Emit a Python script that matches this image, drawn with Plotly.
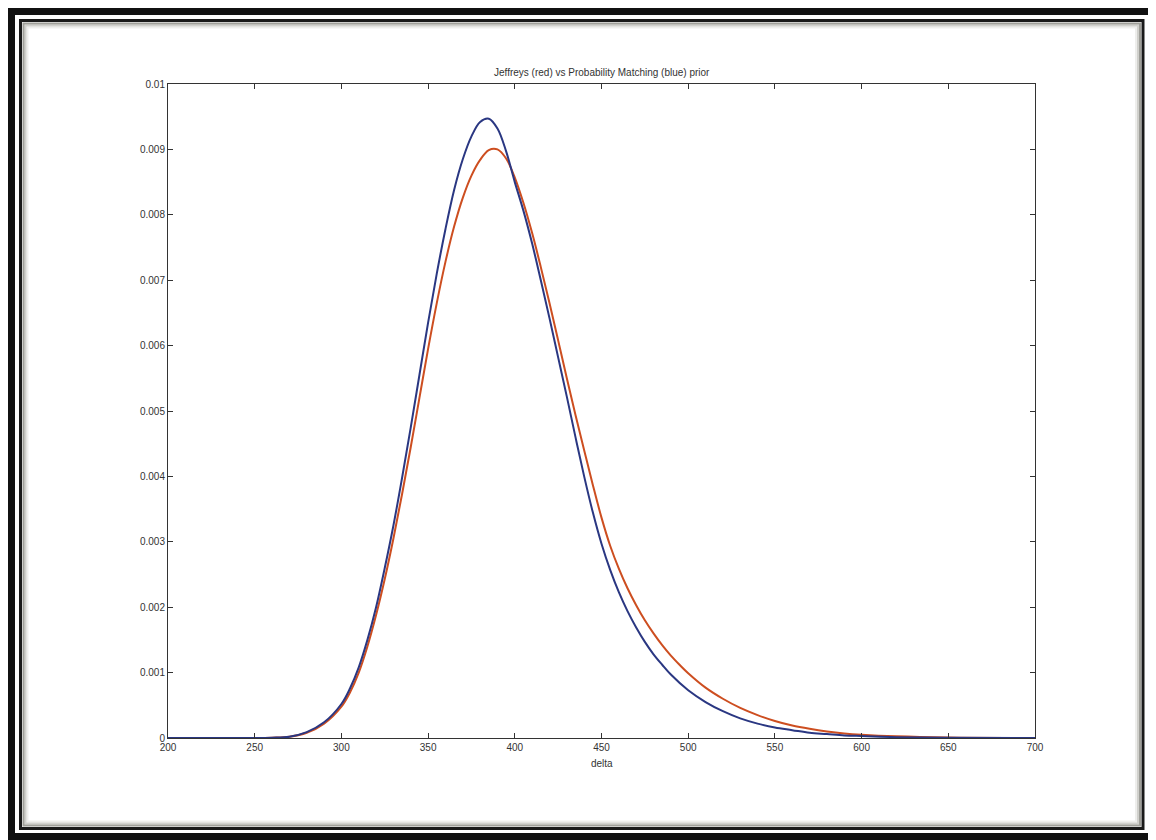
import plotly.graph_objects as go

# ---- data ----
delta_blue = [200, 250, 260, 270, 280, 290, 300, 305, 310, 315, 320, 325, 330, 335, 340, 345, 350,
              355, 360, 365, 370, 375, 380, 385, 390, 395, 400, 405, 410, 415, 420, 425, 430, 435,
              440, 445, 450, 455, 460, 465, 470, 475, 480, 485, 490, 500, 510, 520, 530, 540, 550,
              560, 570, 580, 590, 600, 620, 650, 700]
pm_blue = [0, 0, 0.000005, 0.00002, 0.00009, 0.00024, 0.00052, 0.00076, 0.00108, 0.0015, 0.002,
           0.0026, 0.00325, 0.00398, 0.00475, 0.00555, 0.00635, 0.0071, 0.00778, 0.00838, 0.00885,
           0.0092, 0.00942, 0.00947, 0.00932, 0.00897, 0.0085, 0.00806, 0.00756, 0.007, 0.00642,
           0.00582, 0.00522, 0.0046, 0.004, 0.00345, 0.00297, 0.00257, 0.00223, 0.00194, 0.00169,
           0.00147, 0.00128, 0.00112, 0.00097, 0.00073, 0.00055, 0.00041, 0.0003, 0.00022, 0.00016,
           0.00012, 0.00008, 0.00006, 0.00004, 0.00003, 0.000013, 0.000004, 0]

delta_red = [200, 250, 260, 270, 280, 290, 300, 305, 310, 315, 320, 325, 330, 335, 340, 345, 350,
             355, 360, 365, 370, 375, 380, 385, 390, 395, 400, 405, 410, 415, 420, 425, 430, 435,
             440, 445, 450, 455, 460, 465, 470, 475, 480, 485, 490, 495, 500, 510, 520, 530, 540,
             550, 560, 570, 580, 590, 600, 620, 650, 700]
jeffreys_red = [0, 0, 0.000005, 0.00002, 0.00008, 0.00022, 0.00048, 0.0007, 0.001, 0.0014, 0.00188,
                0.00243, 0.00305, 0.00373, 0.00445, 0.0052, 0.00595, 0.00665, 0.00728, 0.00782,
                0.00826, 0.0086, 0.00884, 0.00899, 0.009, 0.00886, 0.00857, 0.00818, 0.00772, 0.0072,
                0.00665, 0.00608, 0.0055, 0.00494, 0.0044, 0.00387, 0.00337, 0.00294, 0.00259,
                0.00229, 0.00203, 0.0018, 0.0016, 0.00142, 0.00126, 0.00112, 0.00099, 0.00077,
                0.0006, 0.00046, 0.00035, 0.00026, 0.00019, 0.00014, 0.0001, 0.00007, 0.00005,
                0.000025, 0.000007, 0]

x_ticks = [200, 250, 300, 350, 400, 450, 500, 550, 600, 650, 700]
y_ticks = [0, 0.001, 0.002, 0.003, 0.004, 0.005, 0.006, 0.007, 0.008, 0.009, 0.01]
y_ticktext = ["0", "0.001", "0.002", "0.003", "0.004", "0.005", "0.006", "0.007", "0.008", "0.009", "0.01"]

title_text = "Jeffreys (red) vs Probability Matching (blue) prior"
x_label = "delta"

# ---- layout geometry (viewport pixels; page body has an 8px margin) ----
OFF = 8
W, H = 1156 - OFF, 840 - OFF
L, R, T, B = 168 - OFF, 1035 - OFF, 84 - OFF, 738 - OFF
PW, PH = R - L, B - T


def px(x):
    return (x - OFF - L) / PW


def py(y):
    return (B - (y - OFF)) / PH


fig = go.Figure()
fig.add_trace(go.Scatter(x=delta_red, y=jeffreys_red, mode="lines", line_shape="spline",
                         line=dict(color="rgb(205,78,32)", width=2), name="Jeffreys"))
fig.add_trace(go.Scatter(x=delta_blue, y=pm_blue, mode="lines", line_shape="spline",
                         line=dict(color="rgb(42,55,130)", width=2), name="Probability Matching"))

axis_common = dict(showline=True, linecolor="#333", linewidth=1, mirror="ticks", ticks="inside",
                   ticklen=5, tickcolor="#333", showgrid=False, zeroline=False,
                   tickfont=dict(family="Liberation Sans, Arial", size=10, color="#333"))

fig.update_xaxes(range=[200, 700], tickvals=x_ticks, **axis_common)
fig.update_yaxes(range=[0, 0.01], tickvals=y_ticks, ticktext=y_ticktext, **axis_common)

shapes = []
# outer thick black frame
shapes.append(dict(type="rect", xref="paper", yref="paper", x0=px(11), x1=px(1152), y0=py(837), y1=py(11),
                   line=dict(color="#111", width=8), layer="above"))
# inner thin dark frame
shapes.append(dict(type="rect", xref="paper", yref="paper", x0=px(20.5), x1=px(1143), y0=py(828.5), y1=py(20.5),
                   line=dict(color="#1a1a1a", width=3), layer="above"))
# soft shadow inside
for off, col in [(3, "rgba(80,80,70,0.55)"), (5, "rgba(120,120,110,0.35)"), (7, "rgba(170,170,160,0.2)")]:
    shapes.append(dict(type="rect", xref="paper", yref="paper",
                       x0=px(20.5 + off), x1=px(1143 - off), y0=py(828.5 - off), y1=py(20.5 + off),
                       line=dict(color=col, width=2), layer="above"))

fig.update_layout(
    width=W, height=H,
    margin=dict(l=L, r=W - R, t=T, b=H - B),
    paper_bgcolor="white", plot_bgcolor="white",
    showlegend=False,
    shapes=shapes,
    annotations=[
        dict(text=title_text, xref="paper", yref="paper", x=0.5, y=py(72), showarrow=False,
             xanchor="center", yanchor="middle", font=dict(family="Liberation Sans, Arial", size=10, color="#333")),
        dict(text=x_label, xref="paper", yref="paper", x=0.5, y=py(764), showarrow=False,
             xanchor="center", yanchor="middle", font=dict(family="Liberation Sans, Arial", size=10, color="#333")),
    ],
)

fig.write_html("out.html")
